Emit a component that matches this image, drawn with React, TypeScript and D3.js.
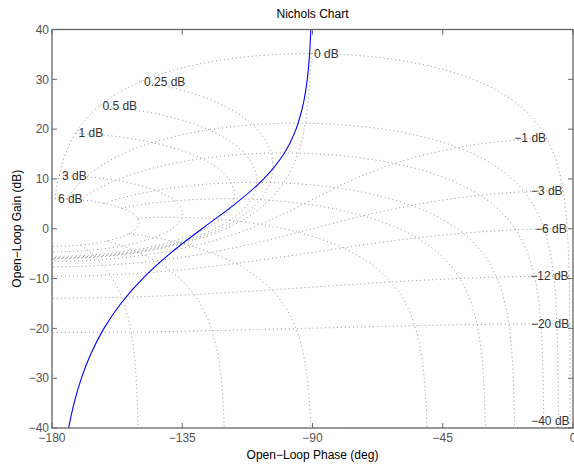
import React from 'react';
import * as d3 from 'd3';

// Axis ticks
const PHASE_TICKS = [-180, -135, -90, -45, 0];
const GAIN_TICKS = [-40, -30, -20, -10, 0, 10, 20, 30, 40];

// Nichols grid levels (closed-loop gain in dB, closed-loop phase in deg)
const CL_GAINS_DB = [6, 3, 1, 0.5, 0.25, 0, -1, -3, -6, -12, -20, -40];
const CL_PHASES = [-1, -5, -10, -20, -30, -50, -90, -120, -150, -180];

// Open-loop response (phase deg, gain dB)
const OL_PHASE = [-174.27, -172.37, -169.84, -166.48, -162.04, -156.21, -148.68, -139.25, -128.17, -116.68, -106.84, -99.94, -95.68, -93.21, -91.81, -91.02, -90.57];
const OL_GAIN = [-40, -35, -30, -25, -20, -15, -10, -5, 0, 5, 10, 15, 20, 25, 30, 35, 40];

const W = 574, H = 464;
const L = 52, R = 573, T = 29.5, B = 428;
const FONT = '"Liberation Sans", Arial, Helvetica, sans-serif';

const x = d3.scaleLinear().domain([-180, 0]).range([L, R]);
const y = d3.scaleLinear().domain([-40, 40]).range([B, T]);

// open-loop point from closed-loop magnitude (linear) and phase (deg)
function olFromCl(m: number, thDeg: number): [number, number] {
  const th = (thDeg * Math.PI) / 180;
  const tr = m * Math.cos(th), ti = m * Math.sin(th);
  const dr = 1 - tr, di = -ti;
  const mag = m / Math.hypot(dr, di);
  const ph = thDeg - (Math.atan2(di, dr) * 180) / Math.PI;
  return [ph, 20 * Math.log10(mag)];
}

function sample(f: (s: number) => [number, number], s0: number, s1: number, n = 300, maxD = 1.2): [number, number][] {
  const toPx = (s: number): [number, number] => { const [ph, g] = f(s); return [x(ph), y(g)]; };
  const pts: [number, number][] = [];
  let prevS = s0; let prev = toPx(s0);
  pts.push(prev);
  const rec = (sa: number, a: [number, number], sb: number, b: [number, number], depth: number) => {
    const d = Math.hypot(b[0] - a[0], b[1] - a[1]);
    if (d > maxD && depth < 22) {
      const sm = (sa + sb) / 2; const mp = toPx(sm);
      rec(sa, a, sm, mp, depth + 1); rec(sm, mp, sb, b, depth + 1);
    } else pts.push(b);
  };
  for (let i = 1; i <= n; i++) {
    const s = s0 + ((s1 - s0) * i) / n;
    const cur = toPx(s);
    rec(prevS, prev, s, cur, 0);
    prevS = s; prev = cur;
  }
  return pts;
}

const fmtDb = (v: number) => (v < 0 ? '\u2212' + Math.abs(v) : String(v)) + ' dB';
const fmtTick = (v: number) => (v < 0 ? '\u2212' + Math.abs(v) : String(v));

export default function App() {
  const pathLine = d3.line<[number, number]>();
  const gainMax = d3.max(CL_GAINS_DB) as number;
  const gainMin = d3.min(CL_GAINS_DB) as number;

  const gainPaths = CL_GAINS_DB.map((gdb) => {
    const m = Math.pow(10, gdb / 20);
    return pathLine(sample((p) => olFromCl(m, -p), 1, 180)) as string;
  });
  const phasePaths = CL_PHASES.map((ps) =>
    pathLine(sample((gdb) => olFromCl(Math.pow(10, gdb / 20), ps), gainMax, gainMin)) as string
  );
  const labels = CL_GAINS_DB.map((gdb) => {
    const [ph, g] = olFromCl(Math.pow(10, gdb / 20), -1);
    const px = x(ph);
    const py = Math.min(y(g), B - 7);
    return gdb >= 0
      ? { t: fmtDb(gdb), x: px + 3, y: py, anchor: 'start' }
      : { t: fmtDb(gdb), x: px - 0.5, y: py, anchor: 'end' };
  });

  const olPts: [number, number][] = OL_PHASE.map((p, i) => [x(p), y(OL_GAIN[i])]);
  const olPath = d3.line<[number, number]>().curve(d3.curveCatmullRom)(olPts) as string;

  const axisColor = '#666';
  const tick = 5;
  return (
    <svg width={W} height={H} style={{ position: 'absolute', left: 0, top: 0, background: '#fff' }} fontFamily={FONT}>
      <rect x={0} y={0} width={W} height={H} fill="#fff" />
      <defs>
        <clipPath id="plotclip">
          <rect x={L} y={T} width={R - L} height={B - T} />
        </clipPath>
      </defs>
      <g clipPath="url(#plotclip)" fill="none" stroke="#808080" strokeWidth={0.9} strokeDasharray="1 3">
        {gainPaths.map((d, i) => <path key={'g' + i} d={d} />)}
        {phasePaths.map((d, i) => <path key={'p' + i} d={d} />)}
      </g>
      <g fontSize={12} fill="#333">
        {labels.map((l, i) => (
          <text key={i} x={l.x} y={l.y} dy="0.35em" textAnchor={l.anchor as any}>{l.t}</text>
        ))}
      </g>
      <g clipPath="url(#plotclip)">
        <path d={olPath} fill="none" stroke="#0000ff" strokeWidth={1.1} />
      </g>
      {/* axes box */}
      <rect x={L} y={T} width={R - L} height={B - T} fill="none" stroke={axisColor} strokeWidth={1.3} />
      {PHASE_TICKS.map((v) => (
        <g key={'xt' + v} stroke={axisColor} strokeWidth={1}>
          <line x1={x(v)} x2={x(v)} y1={B} y2={B - tick} />
          <line x1={x(v)} x2={x(v)} y1={T} y2={T + tick} />
        </g>
      ))}
      {GAIN_TICKS.map((v) => (
        <g key={'yt' + v} stroke={axisColor} strokeWidth={1}>
          <line x1={L} x2={L + tick} y1={y(v)} y2={y(v)} />
          <line x1={R} x2={R - tick} y1={y(v)} y2={y(v)} />
        </g>
      ))}
      <g fontSize={12} fill="#555">
        {PHASE_TICKS.map((v) => (
          <text key={'xl' + v} x={x(v)} y={B + 14} textAnchor="middle">{fmtTick(v)}</text>
        ))}
        {GAIN_TICKS.map((v) => (
          <text key={'yl' + v} x={L - 3} y={y(v)} dy="0.35em" textAnchor="end">{fmtTick(v)}</text>
        ))}
      </g>
      <text x={(L + R) / 2} y={17.5} fontSize={12} textAnchor="middle" fill="#000">Nichols Chart</text>
      <text x={(L + R) / 2} y={459} fontSize={12} textAnchor="middle" fill="#000">Open{'\u2212'}Loop Phase (deg)</text>
      <text transform={`translate(20.5,${(T + B) / 2}) rotate(-90)`} fontSize={12} textAnchor="middle" fill="#000">Open{'\u2212'}Loop Gain (dB)</text>
    </svg>
  );
}
